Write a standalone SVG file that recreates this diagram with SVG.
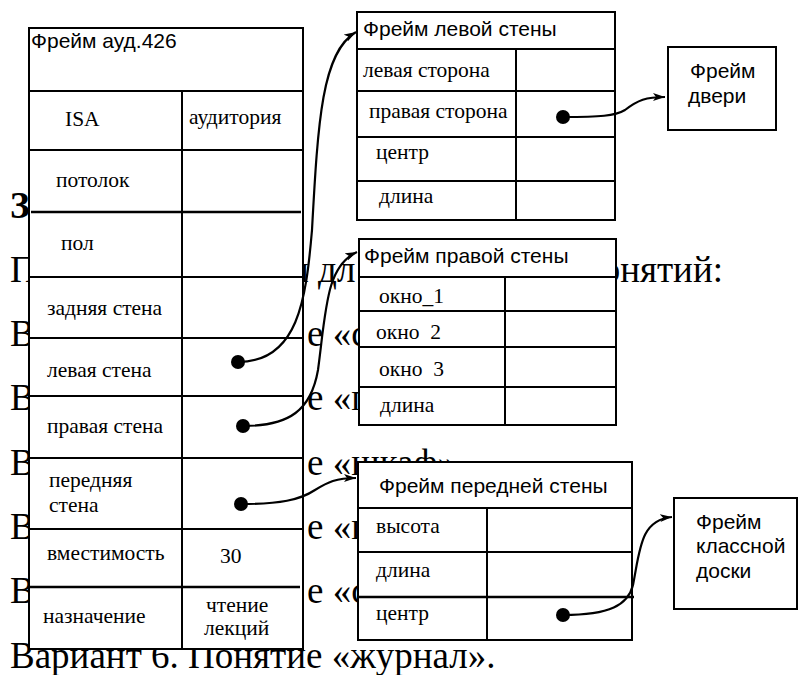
<svg xmlns="http://www.w3.org/2000/svg" width="800" height="675" viewBox="0 0 800 675">
<style>
.frame{fill:#fff;stroke:#000;stroke-width:2}
.ln{stroke:#000;stroke-width:2;fill:none}
.thk{stroke:#000;stroke-width:2.6;fill:none}
.sans{font-family:"Liberation Sans",Arial,sans-serif;font-size:21px;fill:#000}
.serif{font-family:"Liberation Serif","Times New Roman",serif;font-size:21.5px;fill:#000}
.bg{font-family:"Liberation Serif","Times New Roman",serif;font-size:37px;fill:#000}
.conn{fill:none;stroke:#000;stroke-width:2.2;marker-end:url(#arr)}
.dot{fill:#000}
</style>
<defs>
<marker id="arr" markerUnits="userSpaceOnUse" markerWidth="14" markerHeight="10" refX="12" refY="4" orient="auto">
<path d="M0,0 L12,4 L0,8 L3,4 z" fill="#000"/>
</marker>
</defs>
<rect width="800" height="675" fill="#fff"/>
<g id="background-text" class="bg">
<text x="10" y="218" font-weight="bold">З</text>
<text x="10" y="282">П</text>
<text x="284" y="282">ы дл</text>
<text x="723" y="282" text-anchor="end">онятий:</text>
<text x="10" y="346">В</text>
<text x="307" y="346">е «с</text>
<text x="10" y="410">В</text>
<text x="307" y="410">е «п</text>
<text x="10" y="475">В</text>
<text x="307" y="475">е «шкаф»</text>
<text x="10" y="539">В</text>
<text x="307" y="539">е «п</text>
<text x="10" y="603">В</text>
<text x="307" y="603">е «с</text>
<text x="10" y="668">Вариант 6. Понятие «журнал».</text>
</g>
<g id="frame-aud426">
<rect class="frame" x="29" y="28" width="274" height="621"/>
<path class="ln" d="M29,91H303 M182,91V649 M29,150H303 M29,277H303 M29,338H303 M29,396H303 M29,458H303 M29,529H303"/>
<path class="thk" d="M31,212H301 M30,587H300"/>
<text class="sans" x="31" y="48">Фрейм ауд.426</text>
<text class="serif" x="65" y="126">ISA</text>
<text class="serif" x="189" y="124">аудитория</text>
<text class="serif" x="56" y="187">потолок</text>
<text class="serif" x="61" y="250">пол</text>
<text class="serif" x="47" y="315">задняя стена</text>
<text class="serif" x="47" y="377">левая стена</text>
<text class="serif" x="47" y="433">правая стена</text>
<text class="serif" x="49" y="487">передняя</text>
<text class="serif" x="49" y="512">стена</text>
<text class="serif" x="47" y="560">вместимость</text>
<text class="serif" x="220" y="563">30</text>
<text class="serif" x="43" y="623">назначение</text>
<text class="serif" x="206" y="612">чтение</text>
<text class="serif" x="204" y="635">лекций</text>
</g>
<g id="frame-left-wall">
<rect class="frame" x="357" y="12" width="258" height="208"/>
<path class="ln" d="M357,49H615 M516,49V220 M357,91H615 M357,137H615 M357,181H615"/>
<text class="sans" x="363" y="36">Фрейм левой стены</text>
<text class="serif" x="363" y="77">левая сторона</text>
<text class="serif" x="369" y="118">правая сторона</text>
<text class="serif" x="376" y="159">центр</text>
<text class="serif" x="379" y="203">длина</text>
</g>
<g id="frame-door">
<rect class="frame" x="668" y="47" width="108" height="83"/>
<text class="sans" x="690" y="78">Фрейм</text>
<text class="sans" x="688" y="103">двери</text>
</g>
<g id="frame-right-wall">
<rect class="frame" x="359" y="239" width="257" height="186"/>
<path class="ln" d="M359,277H616 M505,277V425 M359,311H616 M359,347H616 M359,387H616"/>
<text class="sans" x="364" y="263">Фрейм правой стены</text>
<text class="serif" x="379" y="303">окно_1</text>
<text class="serif" x="376" y="339" xml:space="preserve">окно  2</text>
<text class="serif" x="379" y="376" xml:space="preserve">окно  3</text>
<text class="serif" x="380" y="412">длина</text>
</g>
<g id="frame-front-wall">
<rect class="frame" x="358" y="462" width="274" height="178"/>
<path class="ln" d="M358,508H632 M487,508V640 M358,552H632"/>
<path class="thk" d="M358,597H634"/>
<text class="sans" x="379" y="493">Фрейм передней стены</text>
<text class="serif" x="376" y="533">высота</text>
<text class="serif" x="376" y="577">длина</text>
<text class="serif" x="376" y="620">центр</text>
</g>
<g id="frame-board">
<rect class="frame" x="674" y="498" width="123" height="111"/>
<text class="sans" x="696" y="529">Фрейм</text>
<text class="sans" x="696" y="553">классной</text>
<text class="sans" x="696" y="578">доски</text>
</g>
<g id="connectors">
<path class="conn" d="M238,362 C298,362 306,300 312,230 C318,120 322,52 356,32"/>
<path class="conn" d="M243,426 C290,426 311,410 318,370 C326,310 326,266 357,252"/>
<path class="conn" d="M241,504 C280,504 300,500 315,490 C328,482 336,478 356,478"/>
<path class="conn" d="M563,117 C600,117 615,116 625,110 C638,100 646,97 665,97"/>
<path class="conn" d="M563,615 C610,615 628,605 633,585 C640,550 640,520 672,517"/>
<circle class="dot" cx="238" cy="362" r="7"/>
<circle class="dot" cx="243" cy="426" r="7"/>
<circle class="dot" cx="241" cy="504" r="7"/>
<circle class="dot" cx="563" cy="117" r="7"/>
<circle class="dot" cx="563" cy="615" r="7"/>
</g>
</svg>
